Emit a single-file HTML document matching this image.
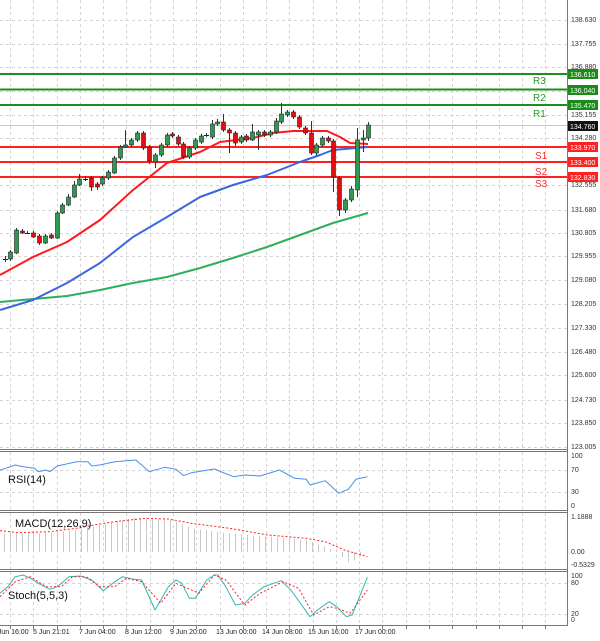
<!DOCTYPE html>
<html><head><meta charset="utf-8">
<style>
html,body{margin:0;padding:0;background:#fff;width:600px;height:641px;overflow:hidden}
svg{display:block}
text{font-family:"Liberation Sans",sans-serif}
</style></head><body>
<svg id="s" width="600" height="641" xmlns="http://www.w3.org/2000/svg">
<rect x="0" y="0" width="600" height="641" fill="#fff"/>
<g id="grid"></g>
<g id="lines"></g>
<g id="candles"></g>
<g id="panels" fill="none" stroke="#777" stroke-width="1">
<line x1="567.5" y1="0" x2="567.5" y2="626"/>
<line x1="0" y1="449.5" x2="567.5" y2="449.5"/><line x1="0" y1="451.5" x2="567.5" y2="451.5"/>
<line x1="0" y1="510.5" x2="567.5" y2="510.5"/><line x1="0" y1="512.5" x2="567.5" y2="512.5"/>
<line x1="0" y1="569.5" x2="567.5" y2="569.5"/><line x1="0" y1="571.5" x2="567.5" y2="571.5"/>
<line x1="0" y1="625.5" x2="567.5" y2="625.5"/>
</g>
<g id="axis" font-size="7" fill="#333">
<text x="571" y="22">138.630</text>
<text x="571" y="46">137.755</text>
<text x="571" y="69">136.880</text>
<text x="571" y="117">135.155</text>
<text x="571" y="140">134.280</text>
<text x="571" y="187">132.555</text>
<text x="571" y="212">131.680</text>
<text x="571" y="235">130.805</text>
<text x="571" y="258">129.955</text>
<text x="571" y="282">129.080</text>
<text x="571" y="306">128.205</text>
<text x="571" y="330">127.330</text>
<text x="571" y="354">126.480</text>
<text x="571" y="377">125.600</text>
<text x="571" y="402">124.730</text>
<text x="571" y="425">123.850</text>
<text x="571" y="449">123.005</text>
<text x="571" y="458">100</text><text x="571" y="472">70</text><text x="571" y="494">30</text><text x="571" y="508">0</text>
<text x="571" y="519">1.1888</text><text x="571" y="554">0.00</text><text x="571" y="567">-0.5329</text>
<text x="571" y="578">100</text><text x="571" y="585">80</text><text x="571" y="616">20</text><text x="571" y="622">0</text>
</g>
<g font-size="7" fill="#fff">
<rect x="568" y="69" width="30" height="10" fill="#1a8a1a"/><text x="570" y="77">136.610</text>
<rect x="568" y="85" width="30" height="10" fill="#1a8a1a"/><text x="570" y="93">136.040</text>
<rect x="568" y="100" width="30" height="10" fill="#1a8a1a"/><text x="570" y="108">135.470</text>
<rect x="568" y="121" width="30" height="10" fill="#111"/><text x="570" y="129">134.760</text>
<rect x="568" y="142" width="30" height="10" fill="#ff2020"/><text x="570" y="150">133.970</text>
<rect x="568" y="157" width="30" height="10" fill="#ff2020"/><text x="570" y="165">133.400</text>
<rect x="568" y="172" width="30" height="10" fill="#ff2020"/><text x="570" y="180">132.830</text>
</g>
<g font-size="10">
<text x="533" y="84" fill="#2a9a2a">R3</text>
<text x="533" y="101" fill="#2a9a2a">R2</text>
<text x="533" y="117" fill="#2a9a2a">R1</text>
<text x="535" y="159" fill="#ff3030">S1</text>
<text x="535" y="175" fill="#ff3030">S2</text>
<text x="535" y="187" fill="#ff3030">S3</text>
</g>
<g font-size="11" fill="#111">
<text x="8" y="483">RSI(14)</text>
<text x="15" y="527">MACD(12,26,9)</text>
<text x="8" y="599">Stoch(5,5,3)</text>
</g>
<g font-size="7" fill="#222">
<text x="-8" y="634">4 Jun 16:00</text>
<text x="33" y="634">5 Jun 21:01</text>
<text x="79" y="634">7 Jun 04:00</text>
<text x="125" y="634">8 Jun 12:00</text>
<text x="170" y="634">9 Jun 20:00</text>
<text x="216" y="634">13 Jun 00:00</text>
<text x="262" y="634">14 Jun 08:00</text>
<text x="308" y="634">15 Jun 16:00</text>
<text x="355" y="634">17 Jun 00:00</text>
</g>
</svg>
<script>
var NS="http://www.w3.org/2000/svg";
function el(p,t,a){var e=document.createElementNS(NS,t);for(var k in a)e.setAttribute(k,a[k]);document.getElementById(p).appendChild(e);return e;}
// grid
for(var x=10;x<567;x+=23.28){
 var xx=Math.round(x)+0.5;
 [[0,449],[452,510],[513,569],[572,625]].forEach(function(r){el("grid","line",{x1:xx,x2:xx,y1:r[0],y2:r[1],stroke:"#d4d4d4","stroke-dasharray":"3,3"});});
 el("grid","line",{x1:xx,x2:xx,y1:626,y2:629,stroke:"#777"});
}
[20,44,67,91,115,138,162,185,210,233,256,280,304,328,352,375,400,423,447,470,492,583,614].forEach(function(y){
 el("grid","line",{x1:0,x2:567,y1:y+.5,y2:y+.5,stroke:"#d4d4d4","stroke-dasharray":"3,3"});});
// levels
function hl(y,c,w){el("lines","line",{x1:0,x2:567,y1:y,y2:y,stroke:c,"stroke-width":w});}
hl(125.5,"#c8c8c8",1);
hl(74,"#1e8c1e",2);hl(89.5,"#1e8c1e",2);hl(105,"#1e8c1e",2);
hl(147,"#ff2020",2);hl(162,"#ff2020",2);hl(177,"#ff2020",2);
function pl(g,pts,c,w,d){el(g,"polyline",{points:pts.map(function(p){return p[0]+","+p[1]}).join(" "),fill:"none",stroke:c,"stroke-width":w,"stroke-dasharray":d||"none","stroke-linejoin":"round"});}
pl("lines",[[0,302],[33,299],[67,296],[100,290],[133,283],[167,277],[200,268],[233,258],[267,247],[300,235],[333,223],[368,213]],"#2eb05a",2);
pl("lines",[[0,310],[33,300],[67,283],[100,263],[133,237],[167,217],[200,197],[233,185],[267,175],[300,162],[320,155],[333,150],[368,147]],"#3a66e0",2);
pl("lines",[[0,275],[33,257],[67,242],[100,220],[133,190],[167,163],[200,152],[220,142],[253,138],[273,133],[293,131],[313,131],[327,131],[340,137],[350,143],[368,144]],"#ff1a1a",2);
// candles: x, open, close, high, low (pixel y)
var C=[[5,259,259,256,262],[10,259,252,250,261],[16,253,230,228,254],[22,231,233,229,234],[27,233,233,231,234],[33,233,237,231,238],[39,236,243,234,245],[45,243,236,234,244],[51,235,238,233,239],[57,238,213,211,239],[62,213,205,203,214],[68,205,197,194,206],[74,197,185,181,198],[79,185,179,174,186],[85,179,179,176,181],[91,178,187,176,191],[97,184,187,182,190],[102,184,178,176,186],[108,178,172,170,180],[114,173,158,156,174],[120,158,147,145,160],[125,147,145,130,148],[131,145,140,138,147],[137,140,133,131,142],[143,133,148,131,150],[149,147,161,145,164],[155,162,155,153,168],[161,155,145,143,157],[167,145,135,133,147],[172,134,136,132,138],[178,137,144,135,146],[183,144,157,142,159],[189,157,148,146,159],[195,148,140,138,150],[201,142,136,134,144],[206,135,135,133,137],[212,137,124,120,139],[217,124,122,119,126],[223,122,130,114,132],[229,130,133,128,153],[235,133,143,131,146],[241,142,137,135,144],[246,136,140,134,142],[252,140,132,124,141],[258,135,132,130,150],[264,132,135,130,137],[270,135,132,130,137],[276,132,121,118,134],[281,122,114,103,124],[287,115,112,110,117],[293,112,117,110,119],[299,117,127,115,129],[305,128,133,126,135],[311,133,153,121,155],[316,153,145,143,156],[322,145,138,136,147],[328,138,141,136,143],[333,141,177,139,192],[339,178,210,176,216],[345,210,200,198,213],[351,200,189,186,202],[357,190,140,128,197],[363,140,138,130,152],[368,138,125,122,141]];
C.forEach(function(c){
 var x=c[0],up=c[2]<c[1];var t=Math.min(c[1],c[2]),b=Math.max(c[1],c[2]);
 el("candles","line",{x1:x+.5,x2:x+.5,y1:c[3],y2:c[4],stroke:"#333","stroke-width":1});
 if(b-t<1.5){el("candles","line",{x1:x-2,x2:x+3,y1:t+.5,y2:t+.5,stroke:"#222"});}
 else el("candles","rect",{x:x-1.5,y:t,width:4,height:b-t,fill:up?"#2e9a50":"#e01010",stroke:"#222","stroke-width":.6});
});
// RSI
var sx=function(z){return z/2.613},sy=function(z){return 440+z/3};
function conv(a){return a.map(function(p){return [sx(p[0]).toFixed(1),sy(p[1]).toFixed(1)]});}
pl("lines",conv([[0,90],[15,85],[40,75],[60,80],[90,85],[100,95],[120,90],[130,95],[150,78],[200,65],[230,65],[240,78],[260,75],[300,65],[330,62],[355,60],[390,95],[430,82],[460,88],[480,107],[500,98],[560,87],[610,110],[640,105],[680,108],[730,90],[770,115],[800,118],[810,135],[850,122],[885,160],[910,148],[930,118],[960,110]]),"#4a90e8",1);
// MACD hist
var H=[[0,280],[120,280],[200,270],[260,255],[300,245],[355,232],[450,240],[500,265],[600,280],[700,290],[800,300],[850,320],[880,335],[900,360],[915,372],[930,355],[945,345]];
function hv(z){for(var i=0;i<H.length-1;i++){if(z>=H[i][0]&&z<=H[i+1][0]){var f=(z-H[i][0])/(H[i+1][0]-H[i][0]);return H[i][1]+f*(H[i+1][1]-H[i][1]);}}return 340;}
for(var z=10;z<=945;z+=15.5){var x=Math.round(sx(z))+.5;el("lines","line",{x1:x,x2:x,y1:552,y2:sy(hv(z)),stroke:"#c8c8c8","stroke-width":1});}
pl("lines",conv([[0,272],[50,278],[130,275],[200,265],[260,252],[300,245],[380,235],[440,237],[500,250],[600,265],[700,285],[800,295],[850,305],[900,330],[960,350]]),"#ff2020",1,"2,2");
// Stoch
pl("lines",conv([[0,460],[20,440],[40,410],[60,405],[80,415],[100,430],[130,448],[150,440],[180,410],[210,408],[240,420],[270,452],[300,425],[320,410],[350,418],[370,420],[405,510],[440,440],[460,420],[475,430],[495,475],[510,475],[540,420],[560,405],[570,405],[590,440],[615,495],[640,490],[660,465],[690,440],[735,422],[760,450],[810,530],[830,510],[860,485],[880,500],[905,530],[920,525],[960,412]]),"#30b8b0",1);
pl("lines",conv([[0,470],[40,425],[80,410],[120,440],[160,440],[190,410],[225,410],[260,440],[300,440],[330,415],[370,425],[420,490],[460,430],[490,445],[520,460],[560,405],[590,420],[640,495],[680,460],[740,425],[780,445],[820,525],[860,500],[880,505],[915,520],[960,450]]),"#ff2020",1,"2,2");
</script>
</body></html>
